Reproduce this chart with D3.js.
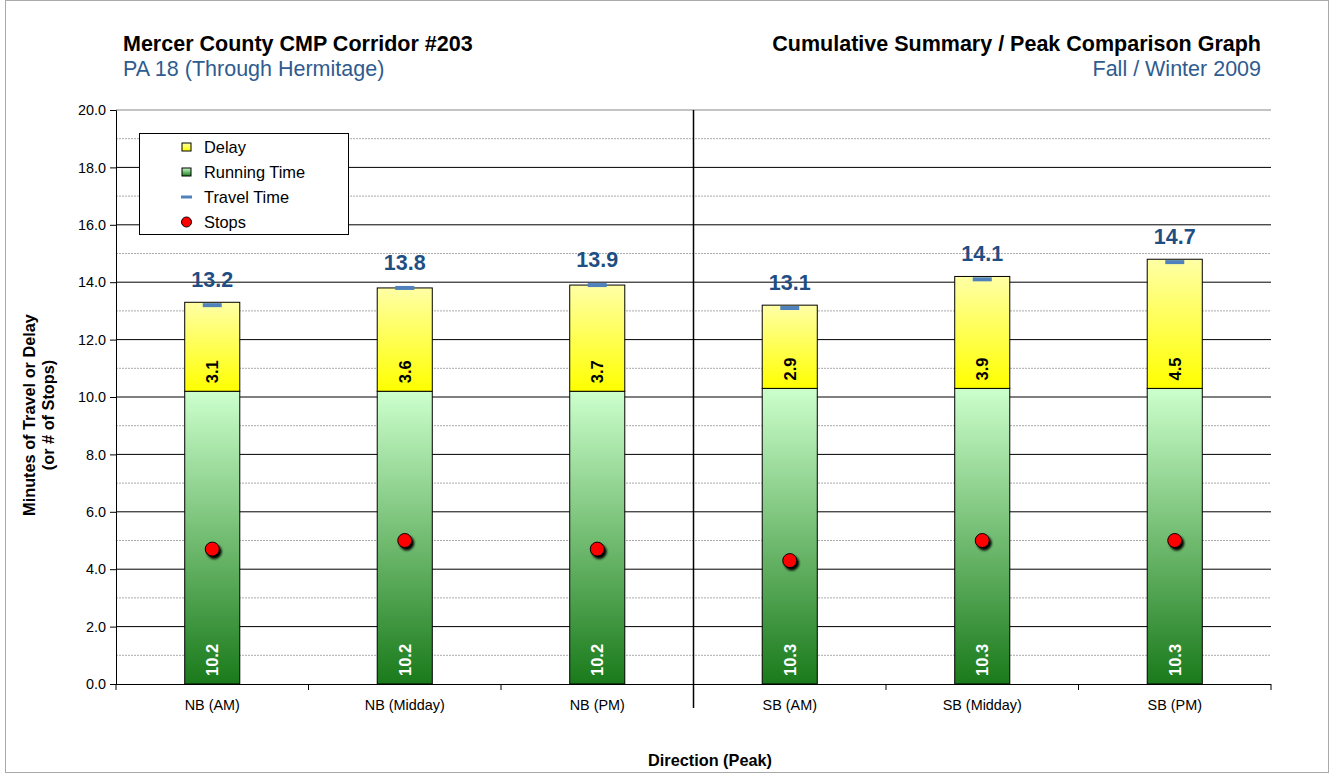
<!DOCTYPE html>
<html><head><meta charset="utf-8">
<script src="https://cdn.jsdelivr.net/npm/d3@7"></script>
<style>body{margin:0;background:#fff}svg{display:block;font-family:Arial,"Liberation Sans",sans-serif}</style>
</head><body>
<svg id="c" width="1333" height="776"></svg>
<script>
const categories = ["NB (AM)","NB (Midday)","NB (PM)","SB (AM)","SB (Midday)","SB (PM)"];
const runningTime = [10.2,10.2,10.2,10.3,10.3,10.3];
const delay = [3.1,3.6,3.7,2.9,3.9,4.5];
const travelTime = [13.2,13.8,13.9,13.1,14.1,14.7];
const stops = [4.7,5.0,4.7,4.3,5.0,5.0];
const yTicks = [0,2,4,6,8,10,12,14,16,18,20];
const legendItems = ["Delay","Running Time","Travel Time","Stops"];

const svg = d3.select("#c");
const L=116,R=1271,T=110,B=684;
const y = d3.scaleLinear().domain([0,20]).range([B,T]);
const x = d3.scaleBand().domain(categories).range([L,R]);
const barW = x.bandwidth()*0.286;

const defs = svg.append("defs");
const g1 = defs.append("linearGradient").attr("id","gDelay").attr("x1",0).attr("y1",0).attr("x2",0).attr("y2",1);
g1.append("stop").attr("offset","0%").attr("stop-color","#FFFFA6");
g1.append("stop").attr("offset","100%").attr("stop-color","#FFFF00");
const g2 = defs.append("linearGradient").attr("id","gRun").attr("x1",0).attr("y1",0).attr("x2",0).attr("y2",1);
g2.append("stop").attr("offset","0%").attr("stop-color","#CCFFCC");
g2.append("stop").attr("offset","100%").attr("stop-color","#1A7A1A");
const f = defs.append("filter").attr("id","sh").attr("x","-50%").attr("y","-50%").attr("width","200%").attr("height","200%");
f.append("feDropShadow").attr("dx",2).attr("dy",2.5).attr("stdDeviation",1.2).attr("flood-color","#000").attr("flood-opacity",1);

// outer frame
svg.append("rect").attr("x",5.5).attr("y",0.5).attr("width",1323).attr("height",772).attr("fill","none").attr("stroke","#aaa");

// titles
svg.append("text").attr("x",123).attr("y",51).attr("font-size",21.5).attr("font-weight","bold").text("Mercer County CMP Corridor #203");
svg.append("text").attr("x",123).attr("y",76).attr("font-size",21.5).attr("fill","#2F5B8F").text("PA 18 (Through Hermitage)");
svg.append("text").attr("x",1261).attr("y",51).attr("text-anchor","end").attr("font-size",21.5).attr("font-weight","bold").text("Cumulative Summary / Peak Comparison Graph");
svg.append("text").attr("x",1261).attr("y",76).attr("text-anchor","end").attr("font-size",21.5).attr("fill","#2F5B8F").text("Fall / Winter 2009");

// minor gridlines
const minor = d3.range(1,20,2);
svg.append("g").selectAll("line").data(minor).join("line")
  .attr("x1",L).attr("x2",R).attr("y1",d=>y(d)).attr("y2",d=>y(d))
  .attr("stroke","#aaa").attr("stroke-dasharray","2,1");
// major gridlines
svg.append("g").selectAll("line").data(yTicks.filter(d=>d>0)).join("line")
  .attr("x1",L).attr("x2",R).attr("y1",d=>y(d)).attr("y2",d=>y(d))
  .attr("stroke",d=>d===20?"#888":"#000").attr("stroke-width",1);

// y axis
const yAxis = d3.axisLeft(y).tickValues(yTicks).tickFormat(d3.format(".1f")).tickSize(6).tickPadding(4);
const ya = svg.append("g").attr("transform",`translate(${L},0)`).call(yAxis);
ya.select(".domain").attr("stroke","#000");
ya.selectAll(".tick line").attr("stroke","#000");
ya.selectAll("text").attr("font-size",14.4).attr("fill","#000").attr("font-family","Arial, Liberation Sans, sans-serif");

// x axis
svg.append("line").attr("x1",L).attr("x2",R).attr("y1",B+0.5).attr("y2",B+0.5).attr("stroke","#000");
const bounds = categories.map(c=>x(c)).concat([R]);
svg.append("g").selectAll("line").data(bounds).join("line")
  .attr("x1",d=>d).attr("x2",d=>d).attr("y1",B).attr("y2",B+6).attr("stroke","#000");
svg.append("g").selectAll("text").data(categories).join("text")
  .attr("x",d=>x(d)+x.bandwidth()/2).attr("y",710).attr("text-anchor","middle").attr("font-size",14.4).text(d=>d);

// separator
const sepX = x(categories[3]);
svg.append("line").attr("x1",sepX).attr("x2",sepX).attr("y1",T).attr("y2",708).attr("stroke","#000").attr("stroke-width",1.5);

// bars
const bx = c => x(c)+(x.bandwidth()-barW)/2;
const bars = svg.append("g");
categories.forEach((c,i)=>{
  bars.append("rect").attr("x",bx(c)).attr("width",barW).attr("y",y(runningTime[i])).attr("height",y(0)-y(runningTime[i]))
    .attr("fill","url(#gRun)").attr("stroke","#000").attr("stroke-width",1);
  bars.append("rect").attr("x",bx(c)).attr("width",barW).attr("y",y(runningTime[i]+delay[i])).attr("height",y(runningTime[i])-y(runningTime[i]+delay[i]))
    .attr("fill","url(#gDelay)").attr("stroke","#000").attr("stroke-width",1);
});
// inside labels
const cx = c => x(c)+x.bandwidth()/2;
categories.forEach((c,i)=>{
  const base0 = y(0)-8, base1 = y(runningTime[i])-8;
  bars.append("text").attr("transform",`translate(${cx(c)+6},${base0}) rotate(-90)`).attr("font-size",16.5).attr("font-weight","bold").attr("fill","#fff").text(runningTime[i].toFixed(1));
  bars.append("text").attr("transform",`translate(${cx(c)+6},${base1}) rotate(-90)`).attr("font-size",16.5).attr("font-weight","bold").attr("fill","#000").text(delay[i].toFixed(1));
});
// travel time markers
svg.append("g").selectAll("rect").data(travelTime).join("rect")
  .attr("x",(d,i)=>cx(categories[i])-9.5).attr("width",19).attr("y",d=>y(d)-2).attr("height",4).attr("fill","#4F81BD");
svg.append("g").selectAll("text").data(travelTime).join("text")
  .attr("x",(d,i)=>cx(categories[i])).attr("y",d=>y(d)-18).attr("text-anchor","middle")
  .attr("font-size",21.5).attr("font-weight","bold").attr("fill","#1F4E82").text(d=>d.toFixed(1));
// stops
svg.append("g").selectAll("circle").data(stops).join("circle")
  .attr("cx",(d,i)=>cx(categories[i])).attr("cy",d=>y(d)).attr("r",7)
  .attr("fill","#FF0000").attr("stroke","#000").attr("stroke-width",1).attr("filter","url(#sh)");

// axis titles
svg.append("text").attr("x",710).attr("y",766).attr("text-anchor","middle").attr("font-size",16.3).attr("font-weight","bold").text("Direction (Peak)");
const yt = svg.append("text").attr("transform","translate(35,415) rotate(-90)").attr("text-anchor","middle").attr("font-size",16.3).attr("font-weight","bold");
yt.append("tspan").attr("x",0).attr("y",0).text("Minutes of Travel or Delay");
yt.append("tspan").attr("x",0).attr("y",18.5).text("(or # of Stops)");

// legend
const lg = svg.append("g");
lg.append("rect").attr("x",139.5).attr("y",133.5).attr("width",209).attr("height",101).attr("fill","#fff").attr("stroke","#000");
const ly = [147,172,197,222];
legendItems.forEach((t,i)=>{
  const yy = ly[i];
  if(i===0) lg.append("rect").attr("x",182).attr("y",yy-4).attr("width",9).attr("height",8).attr("fill","url(#gDelay)").attr("stroke","#000");
  if(i===1) lg.append("rect").attr("x",182).attr("y",yy-4).attr("width",9).attr("height",8).attr("fill","url(#gRun)").attr("stroke","#000");
  if(i===2) lg.append("rect").attr("x",181).attr("y",yy-1.5).attr("width",11).attr("height",3).attr("fill","#4F81BD");
  if(i===3) lg.append("circle").attr("cx",186.5).attr("cy",yy).attr("r",5).attr("fill","#FF0000").attr("stroke","#000");
  lg.append("text").attr("x",204).attr("y",yy+6).attr("font-size",16.4).text(t);
});
</script>
</body></html>
